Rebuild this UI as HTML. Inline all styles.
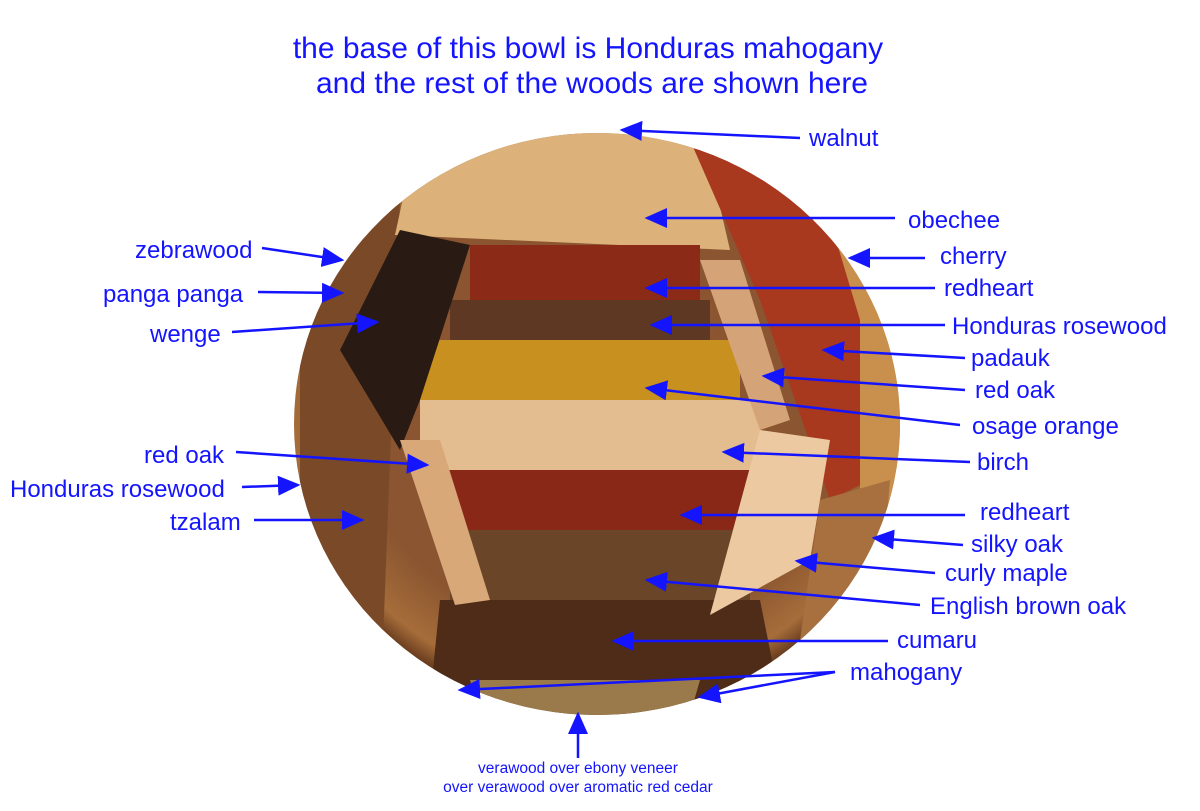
<!DOCTYPE html>
<html><head><meta charset="utf-8"><style>
html,body{margin:0;padding:0;background:#fff;}
svg{display:block;}
text{font-family:"Liberation Sans",Arial,sans-serif;fill:#1414ff;}
</style></head><body>
<svg width="1200" height="811" viewBox="0 0 1200 811" xmlns="http://www.w3.org/2000/svg">
<defs>
<marker id="a" markerWidth="9" markerHeight="8" refX="8" refY="4" orient="auto" markerUnits="strokeWidth">
<path d="M0,0 L9,4 L0,8 Z" fill="#1414ff"/></marker>
<radialGradient id="rim" cx="0.5" cy="0.45" r="0.55">
<stop offset="0.75" stop-color="#8a5530"/><stop offset="0.92" stop-color="#a66d3a"/><stop offset="1" stop-color="#5a3018"/></radialGradient>
<clipPath id="bowl"><ellipse cx="597" cy="424" rx="303" ry="291"/></clipPath>
</defs>
<rect width="1200" height="811" fill="#fff"/>
<ellipse cx="597" cy="424" rx="303" ry="291" fill="url(#rim)"/>
<g clip-path="url(#bowl)">
<path d="M300,300 L400,200 L380,720 L300,700 Z" fill="#7a4a28"/>
<path d="M420,120 L700,120 L730,250 L395,235 Z" fill="#ddb27a"/>
<path d="M690,140 L790,170 L870,300 L870,480 L830,500 L760,300 Z" fill="#a8381e"/>
<path d="M830,220 L900,300 L900,520 L860,500 L860,320 Z" fill="#c8904c"/>
<rect x="470" y="245" width="230" height="55" fill="#8c2a18"/>
<rect x="450" y="300" width="260" height="40" fill="#5e3822"/>
<rect x="420" y="340" width="320" height="60" fill="#c8901e"/>
<rect x="420" y="400" width="340" height="70" fill="#e3bd90"/>
<rect x="440" y="470" width="330" height="60" fill="#8a2818"/>
<rect x="450" y="530" width="300" height="70" fill="#6a4528"/>
<path d="M440,600 L760,600 L780,700 L430,700 Z" fill="#4e2c18"/>
<path d="M400,230 L470,245 L420,400 L400,450 L340,350 Z" fill="#2a1a14"/>
<path d="M400,440 L440,440 L490,600 L455,605 Z" fill="#d8a878"/>
<path d="M700,260 L740,260 L790,420 L760,430 Z" fill="#d4a478"/>
<path d="M760,430 L830,440 L810,560 L710,615 Z" fill="#ecc9a0"/>
<path d="M820,500 L890,480 L880,600 L800,640 Z" fill="#a8703e"/>
<path d="M470,680 L700,680 L690,715 L480,715 Z" fill="#9a7a4a"/>
</g>
<text x="588" y="58" font-size="30" text-anchor="middle">the base of this bowl is Honduras mahogany</text>
<text x="592" y="93" font-size="30" text-anchor="middle">and the rest of the woods are shown here</text>
<g font-size="24">
<text x="809" y="146">walnut</text>
<text x="908" y="228">obechee</text>
<text x="940" y="264">cherry</text>
<text x="944" y="296">redheart</text>
<text x="952" y="334">Honduras rosewood</text>
<text x="971" y="366">padauk</text>
<text x="975" y="398">red oak</text>
<text x="972" y="434">osage orange</text>
<text x="977" y="470">birch</text>
<text x="980" y="520">redheart</text>
<text x="971" y="552">silky oak</text>
<text x="945" y="581">curly maple</text>
<text x="930" y="614">English brown oak</text>
<text x="897" y="648">cumaru</text>
<text x="850" y="680">mahogany</text>
<text x="135" y="258">zebrawood</text>
<text x="103" y="302">panga panga</text>
<text x="150" y="342">wenge</text>
<text x="144" y="463">red oak</text>
<text x="10" y="497">Honduras rosewood</text>
<text x="170" y="530">tzalam</text>
</g>
<text x="578" y="773" font-size="15.5" text-anchor="middle">verawood over ebony veneer</text>
<text x="578" y="792" font-size="15.5" text-anchor="middle">over verawood over aromatic red cedar</text>
<g stroke="#1414ff" stroke-width="2.5" marker-end="url(#a)" fill="none">
<line x1="800" y1="138" x2="622" y2="130"/>
<line x1="895" y1="218" x2="647" y2="218"/>
<line x1="925" y1="258" x2="850" y2="258"/>
<line x1="935" y1="288" x2="647" y2="288"/>
<line x1="945" y1="325" x2="652" y2="325"/>
<line x1="965" y1="358" x2="824" y2="350"/>
<line x1="965" y1="390" x2="764" y2="376"/>
<line x1="960" y1="425" x2="647" y2="388"/>
<line x1="970" y1="462" x2="724" y2="452"/>
<line x1="965" y1="515" x2="682" y2="515"/>
<line x1="963" y1="545" x2="874" y2="538"/>
<line x1="935" y1="573" x2="797" y2="561"/>
<line x1="920" y1="605" x2="647" y2="580"/>
<line x1="888" y1="641" x2="614" y2="641"/>
<line x1="835" y1="672" x2="460" y2="690"/>
<line x1="835" y1="672" x2="700" y2="697"/>
<line x1="262" y1="248" x2="342" y2="260"/>
<line x1="258" y1="292" x2="342" y2="293"/>
<line x1="232" y1="332" x2="377" y2="322"/>
<line x1="236" y1="452" x2="427" y2="465"/>
<line x1="242" y1="487" x2="298" y2="485"/>
<line x1="254" y1="520" x2="362" y2="520"/>
<line x1="578" y1="758" x2="578" y2="714"/>
</g>
</svg>
</body></html>
